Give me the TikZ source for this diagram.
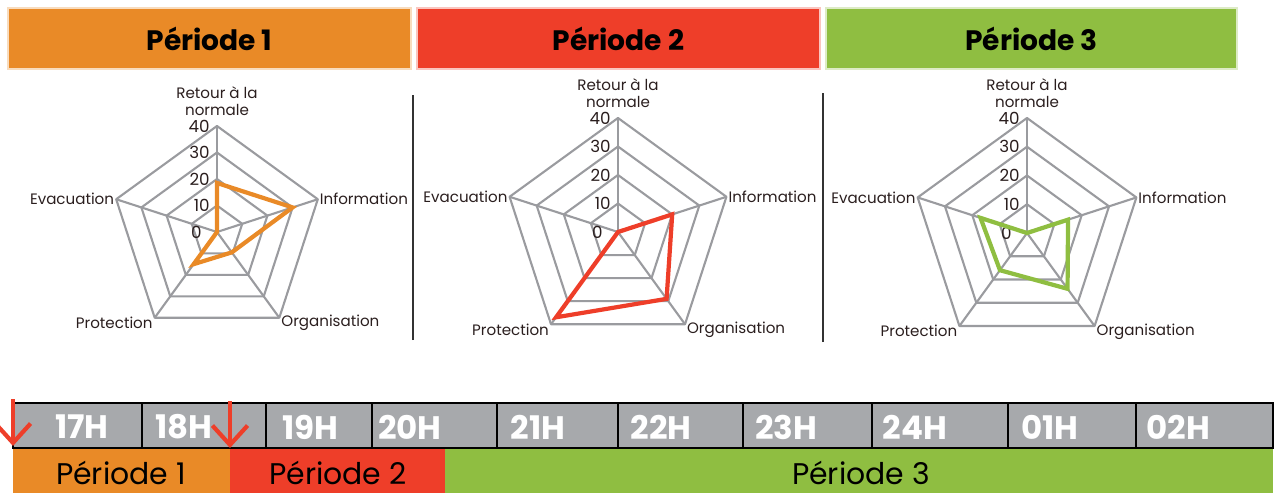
\documentclass[tikz,border=0pt]{standalone}
\usepackage{fontspec}
\setmainfont{Poppins}
\usetikzlibrary{arrows.meta}
\definecolor{perone}{HTML}{E98A27}
\definecolor{pertwo}{HTML}{EE3E29}
\definecolor{perthree}{HTML}{8FBE41}
\definecolor{hourgray}{HTML}{A7A9AC}
\definecolor{webgray}{HTML}{9A9B9F}
\definecolor{labeltext}{HTML}{2A1E1E}
\tikzset{
    headbox/.style={fill=#1, draw=#1!30, line width=1.2pt},
    headtext/.style={font=\bfseries\fontsize{16}{18}\selectfont},
    webline/.style={webgray, line width=1.2pt, line join=round},
    dataline/.style={line width=2.4pt, line join=miter},
    axislabel/.style={labeltext, font=\fontsize{8.6}{10}\selectfont, align=center, inner sep=1pt},
    ticklabel/.style={labeltext, font=\fontsize{9.5}{10}\selectfont, anchor=east, inner sep=0pt},
    sepline/.style={black!80, line width=1.1pt},
    hourcell/.style={draw=black, fill=hourgray, line width=1pt},
    hourtext/.style={white, font=\bfseries\fontsize{18.5}{20}\selectfont},
    pertext/.style={font=\fontsize{17}{19}\selectfont},
    startarrow/.style={pertwo, line width=2.4pt, -{Straight Barb[length=11pt, width=20pt]}}
}
\begin{document}
\begin{tikzpicture}[x=0.02cm, y=0.02cm]
    \useasboundingbox (0,0) rectangle (1275,495);
    % headers
    \foreach \l/\r/\col/\n in {8/411/perone/1, 417/820/pertwo/2, 826/1237/perthree/3}{
        \draw[headbox=\col] (\l,426) rectangle (\r,487);
        \node[headtext] (head\n) at ({(\l+\r)/2},456.5) {Période \n};
    }
    % radar charts
    \foreach \cx/\cy/\r/\col/\va/\vb/\vc/\vd/\ve/\n in {217/263/106/perone/18.5/30/9.5/15/0/1, 618/263/114/pertwo/0/20/29/37/0/2, 1027/262/115/perthree/0/15/24/16/17/3}{
        \begin{scope}[shift={(\cx,\cy)}]
            \foreach \k in {1,...,4}
                \draw[webline] (90:\k*\r/4) -- (18:\k*\r/4) -- (-54:\k*\r/4) -- (-126:\k*\r/4) -- (162:\k*\r/4) -- cycle;
            \foreach \a in {90,18,-54,-126,162}
                \draw[webline] (0,0) -- (\a:\r);
            \foreach \v/\dx [count=\k from 0] in {0/8.5,10/4,20/4,30/4,40/4}
                \node[ticklabel, xshift=-\dx pt] (tick\n-\v) at (90:\k*\r/4) {\v};
            \draw[dataline, \col] (90:\va*\r/40) -- (18:\vb*\r/40) -- (-54:\vc*\r/40) -- (-126:\vd*\r/40) -- (162:\ve*\r/40) -- cycle;
            \node[axislabel, anchor=south, yshift=4.5pt] (ret\n) at (90:\r) {Retour à la\\normale};
            \node[axislabel, anchor=west] (inf\n) at (18:\r) {Information};
            \node[axislabel, anchor=west, yshift=-3pt] (org\n) at (-54:\r) {Organisation};
            \node[axislabel, anchor=east, yshift=-3pt] (pro\n) at (-126:\r) {Protection};
            \node[axislabel, anchor=east] (eva\n) at (162:\r) {Evacuation};
        \end{scope}
    }
    \draw[sepline] (413,155) -- (413,400);
    \draw[sepline] (823,153) -- (823,402);
    % timeline
    \fill[perone] (13,2) rectangle (230,47);
    \fill[pertwo] (230,2) rectangle (445,47);
    \fill[perthree] (445,2) rectangle (1273,47);
    \node[pertext] (tlone) at (121,22) {Période 1};
    \node[pertext] (tltwo) at (338,22) {Période 2};
    \node[pertext] (tlthree) at (861,22) {Période 3};
    \foreach \l/\r/\t/\tx [count=\i] in {13/142/17H/82, 142/266/18H/184, 266/372/19H/310, 372/497/20H/410, 497/618/21H/538, 618/743/22H/661, 743/872/23H/786, 872/1008/24H/915, 1008/1136/01H/1050, 1136/1273/02H/1178}{
        \draw[hourcell] (\l,47) rectangle (\r,92);
        \node[hourtext] (hour\i) at (\tx,68) {\t};
    }
    \coordinate (startone) at (13,96);
    \coordinate (tipone) at (13,49);
    \coordinate (starttwo) at (230,94);
    \coordinate (tiptwo) at (230,47);
    \draw[startarrow] (startone) -- (tipone);
    \draw[startarrow] (starttwo) -- (tiptwo);
\end{tikzpicture}
\end{document}
